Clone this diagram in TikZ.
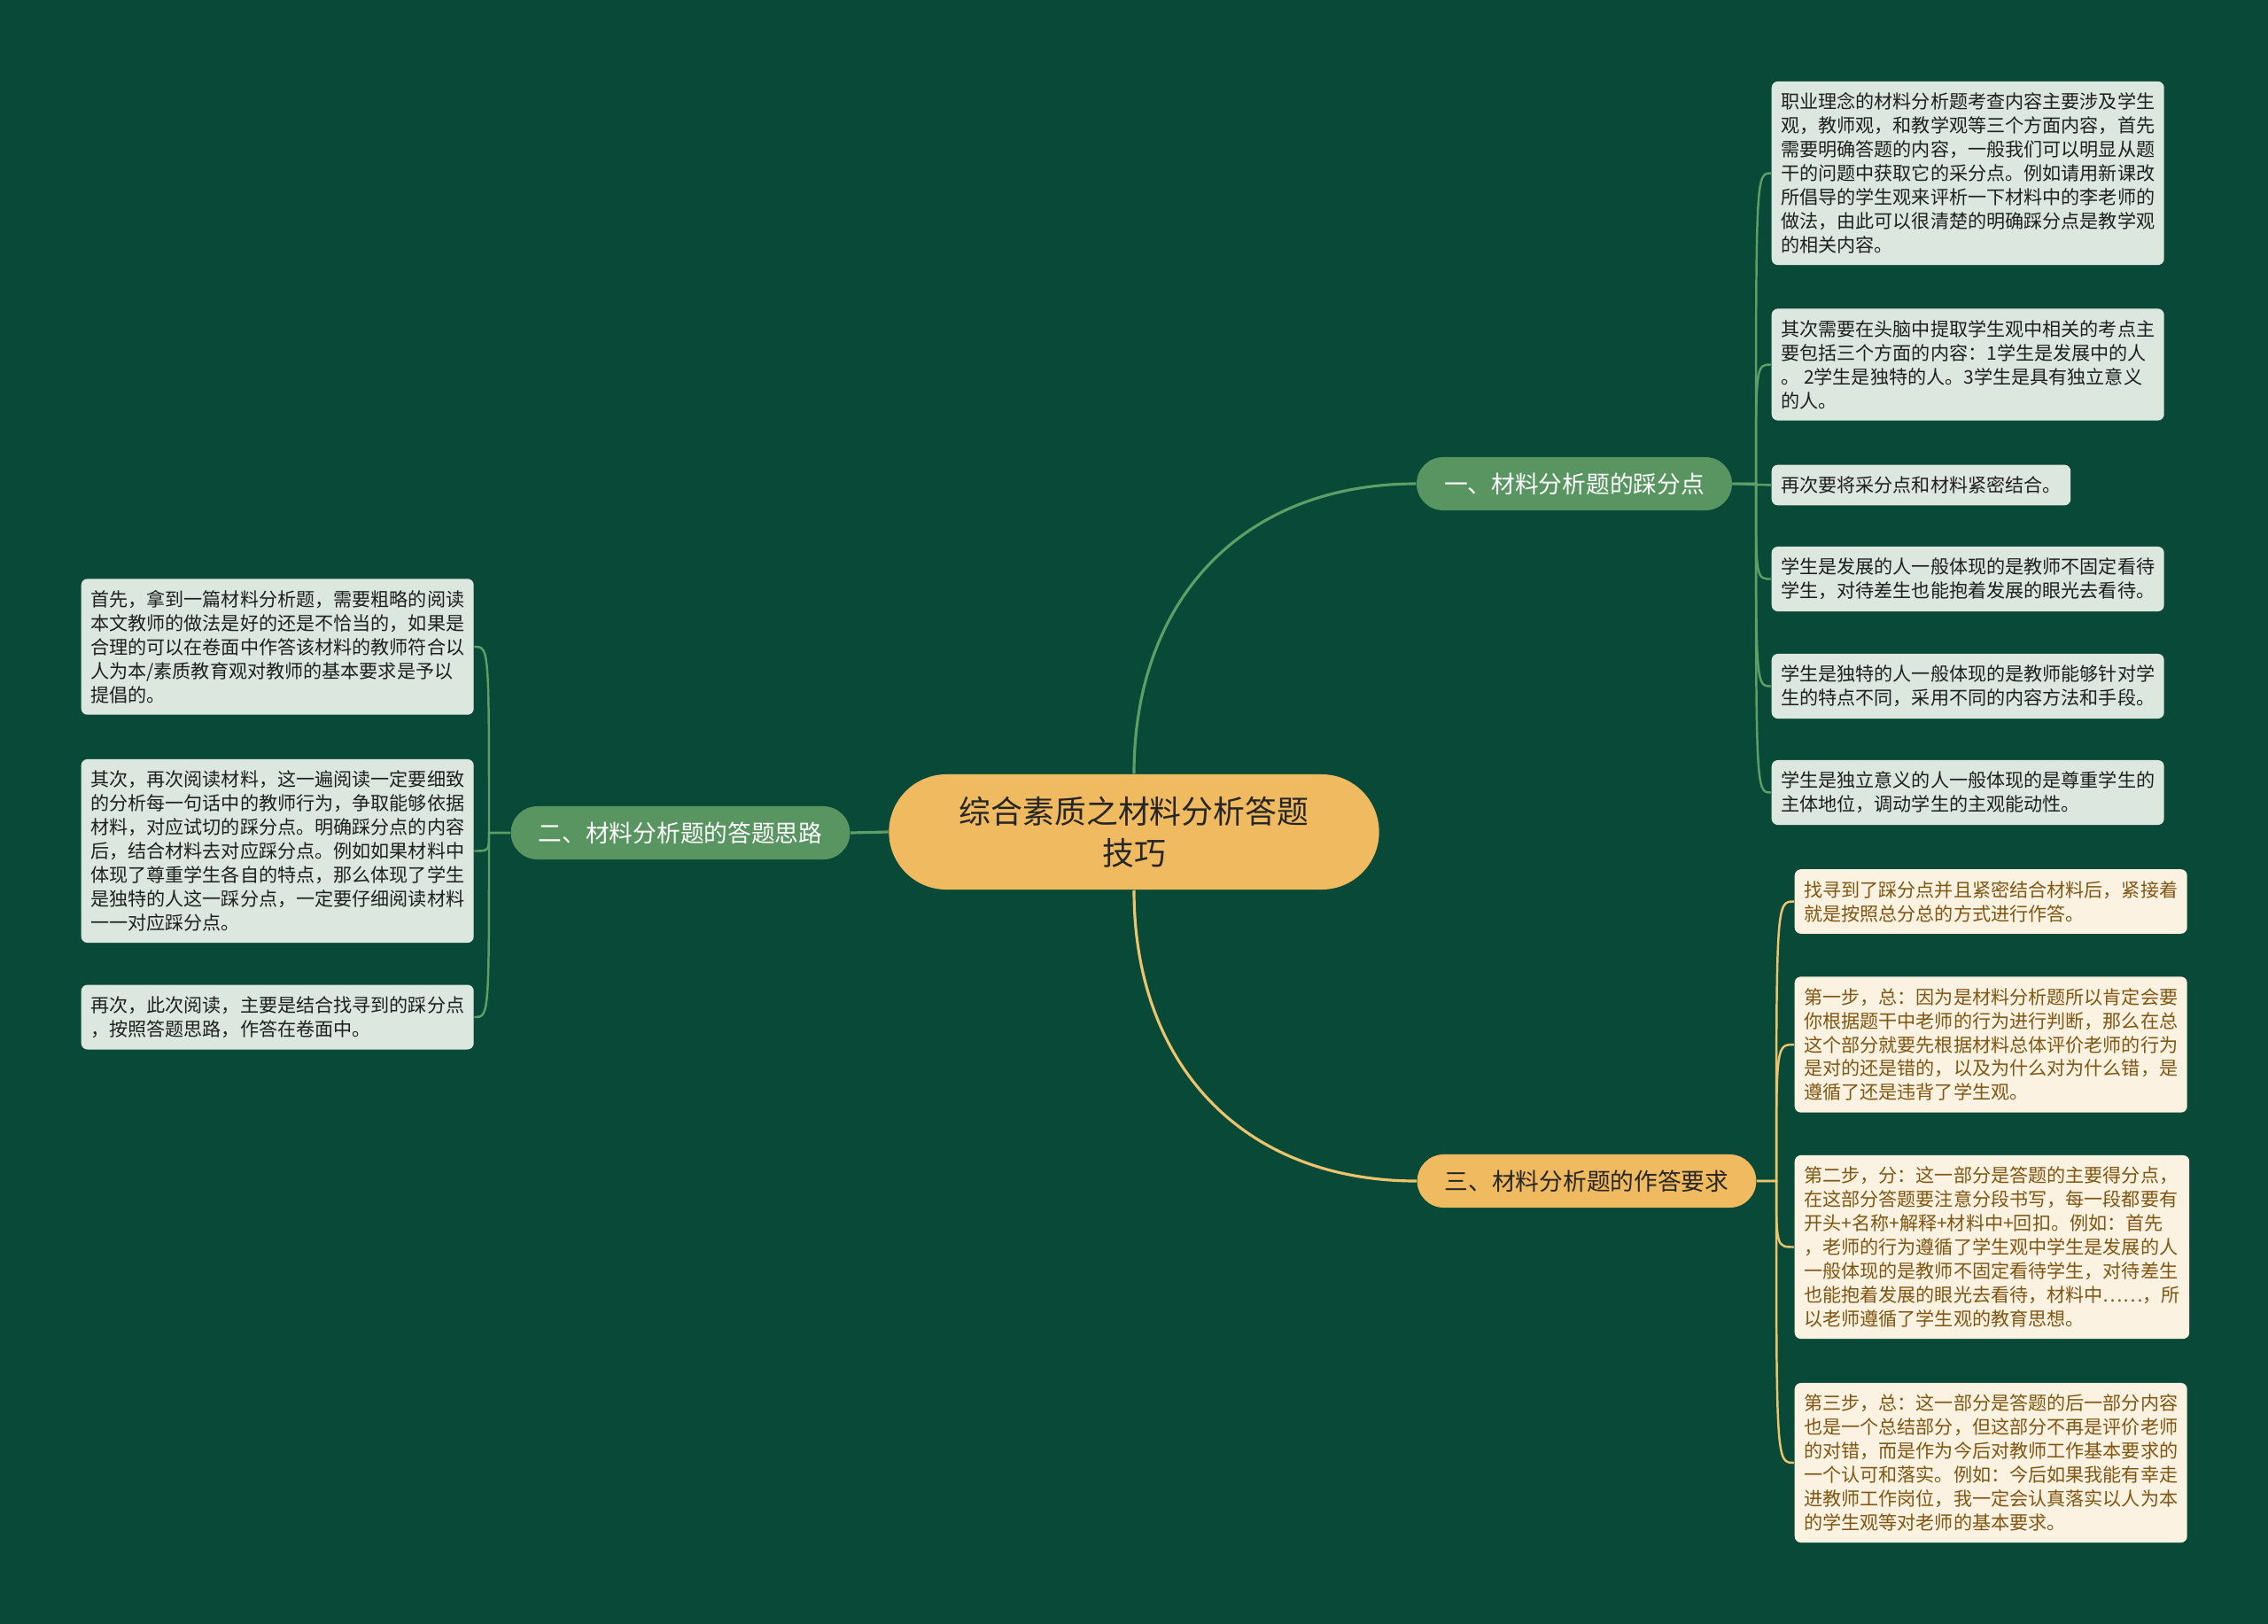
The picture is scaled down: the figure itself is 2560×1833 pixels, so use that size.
\documentclass[tikz,border=0pt]{standalone}
\usepackage{fontspec}
\setmainfont{Noto Sans CJK SC}
\usepackage{tikz}
\definecolor{bgdark}{RGB}{9,73,56}
\definecolor{gbranch}{RGB}{88,149,97}
\definecolor{obranch}{RGB}{240,186,96}
\definecolor{gleaf}{RGB}{220,232,223}
\definecolor{oleaf}{RGB}{252,242,226}
\definecolor{otext}{RGB}{128,86,18}
\definecolor{glink}{RGB}{94,158,103}
\definecolor{olink}{RGB}{236,196,110}
\tikzset{
    root/.style={fill=obranch, text=black!85, rounded corners=0.65cm, minimum width=5.53cm, minimum height=1.3cm, align=center, font=\fontsize{10.2pt}{13.4pt}\selectfont}, % 中心主题的样式
    branchg/.style={fill=gbranch, text=white, rounded corners=0.3cm, inner xsep=0.31cm, minimum height=0.6cm, font=\fontsize{7.6pt}{9pt}\selectfont}, % 绿色分支的样式
    brancho/.style={branchg, fill=obranch, text=black!85}, % 橙色分支的样式
    leafg/.style={fill=gleaf, text=black!88, rounded corners=0.07cm, inner xsep=0.105cm, inner ysep=0.13cm, align=left, font=\fontsize{6pt}{7.65pt}\selectfont}, % 绿色叶子的样式
    leafo/.style={leafg, fill=oleaf, text=otext}, % 橙色叶子的样式
    linkg/.style={glink, line width=0.7pt},
    linko/.style={olink, line width=0.7pt}
}

\begin{document}
\begin{tikzpicture}[x=0.01cm, y=-0.01cm]
    \fill[bgdark] (0,0) rectangle (2560,1833);
    \useasboundingbox (0,0) rectangle (2560,1833);

    \node[root] (c) at (1280,939) {综合素质之材料分析答题\\技巧};
    \node[branchg] (b1) at (1777,546) {一、材料分析题的踩分点};
    \node[branchg] (b2) at (768,940) {二、材料分析题的答题思路};
    \node[brancho] (b3) at (1791,1333) {三、材料分析题的作答要求};

    \coordinate (t1) at (1982,546);
    \coordinate (t2) at (552,940);
    \coordinate (t3) at (2005,1333);

    \node[leafg, anchor=west] (l1a) at (1999,195.5) {职业理念的材料分析题考查内容主要涉及学生\\观，教师观，和教学观等三个方面内容，首先\\需要明确答题的内容，一般我们可以明显从题\\干的问题中获取它的采分点。例如请用新课改\\所倡导的学生观来评析一下材料中的李老师的\\做法，由此可以很清楚的明确踩分点是教学观\\的相关内容。};
    \node[leafg, anchor=west] (l1b) at (1999,411.5) {其次需要在头脑中提取学生观中相关的考点主\\要包括三个方面的内容：1学生是发展中的人\\。\ 2学生是独特的人。3学生是具有独立意义\\的人。};
    \node[leafg, anchor=west] (l1c) at (1999,547.5) {再次要将采分点和材料紧密结合。};
    \node[leafg, anchor=west] (l1d) at (1999,653.5) {学生是发展的人一般体现的是教师不固定看待\\学生，对待差生也能抱着发展的眼光去看待。};
    \node[leafg, anchor=west] (l1e) at (1999,774.5) {学生是独特的人一般体现的是教师能够针对学\\生的特点不同，采用不同的内容方法和手段。};
    \node[leafg, anchor=west] (l1f) at (1999,894.5) {学生是独立意义的人一般体现的是尊重学生的\\主体地位，调动学生的主观能动性。};

    \node[leafg, anchor=west] (l2a) at (91,730) {首先，拿到一篇材料分析题，需要粗略的阅读\\本文教师的做法是好的还是不恰当的，如果是\\合理的可以在卷面中作答该材料的教师符合以\\人为本/素质教育观对教师的基本要求是予以\\提倡的。};
    \node[leafg, anchor=west] (l2b) at (91,960.5) {其次，再次阅读材料，这一遍阅读一定要细致\\的分析每一句话中的教师行为，争取能够依据\\材料，对应试切的踩分点。明确踩分点的内容\\后，结合材料去对应踩分点。例如如果材料中\\体现了尊重学生各自的特点，那么体现了学生\\是独特的人这一踩分点，一定要仔细阅读材料\\一一对应踩分点。};
    \node[leafg, anchor=west] (l2c) at (91,1148) {再次，此次阅读，主要是结合找寻到的踩分点\\，按照答题思路，作答在卷面中。};

    \node[leafo, anchor=west] (l3a) at (2025,1017.5) {找寻到了踩分点并且紧密结合材料后，紧接着\\就是按照总分总的方式进行作答。};
    \node[leafo, anchor=west] (l3b) at (2025,1179) {第一步，总：因为是材料分析题所以肯定会要\\你根据题干中老师的行为进行判断，那么在总\\这个部分就要先根据材料总体评价老师的行为\\是对的还是错的，以及为什么对为什么错，是\\遵循了还是违背了学生观。};
    \node[leafo, anchor=west] (l3c) at (2025,1407.5) {第二步，分：这一部分是答题的主要得分点，\\在这部分答题要注意分段书写，每一段都要有\\开头+名称+解释+材料中+回扣。例如：首先\\，老师的行为遵循了学生观中学生是发展的人\\一般体现的是教师不固定看待学生，对待差生\\也能抱着发展的眼光去看待，材料中……，所\\以老师遵循了学生观的教育思想。};
    \node[leafo, anchor=west] (l3d) at (2025,1651) {第三步，总：这一部分是答题的后一部分内容\\也是一个总结部分，但这部分不再是评价老师\\的对错，而是作为今后对教师工作基本要求的\\一个认可和落实。例如：今后如果我能有幸走\\进教师工作岗位，我一定会认真落实以人为本\\的学生观等对老师的基本要求。};

    % 中心到分支的连线
    \draw[linkg, line width=0.9pt] (c.north) to[out=90, in=180, looseness=1.1] (b1.west);
    \draw[linkg, line width=0.9pt] (c.west) -- (b2.east);
    \draw[linko, line width=0.9pt] (c.south) to[out=-90, in=180, looseness=1.1] (b3.west);

    % 分支到叶子的连线
    \foreach \n in {l1a,l1b,l1d,l1e,l1f} {\draw[linkg] (b1.east) -- (t1) .. controls (t1 |- \n.west) .. (\n.west);}
    \draw[linkg] (b1.east) -- (l1c.west);
    \foreach \n in {l2a,l2b,l2c} {\draw[linkg] (b2.west) -- (t2) .. controls (t2 |- \n.east) .. (\n.east);}
    \foreach \n in {l3a,l3b,l3c,l3d} {\draw[linko] (b3.east) -- (t3) .. controls (t3 |- \n.west) .. (\n.west);}
\end{tikzpicture}
\end{document}
